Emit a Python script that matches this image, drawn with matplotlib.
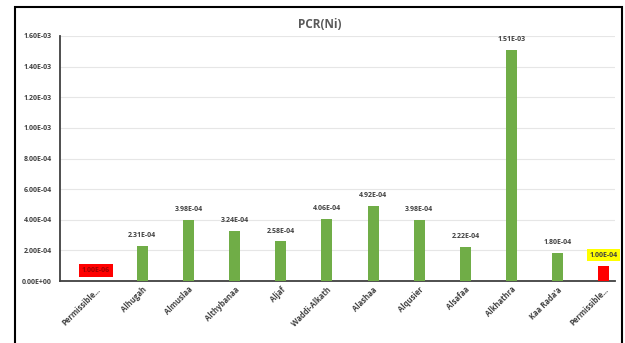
import numpy as np
import matplotlib.pyplot as plt
from matplotlib.patches import Rectangle
from matplotlib.ticker import FormatStrFormatter

plt.rcParams['font.family'] = ['Open Sans', 'DejaVu Sans']

# PCR for nickel by site, with permissible limits at both ends
sites = ['Permissible...', 'Alhugah', 'Almuslaa', 'Althybanaa', 'Aljaf',
         'Waddi-Alkath', 'Alashaa', 'Alqusier', 'Alsafaa', 'Alkhathra',
         "Kaa Rada'a", 'Permissible...']
pcr = [1.00e-06, 2.31e-04, 3.98e-04, 3.24e-04, 2.58e-04, 4.06e-04,
       4.92e-04, 3.98e-04, 2.22e-04, 1.51e-03, 1.80e-04, 1.00e-04]
colors = ['#FF0000'] + ['#70AD47'] * 10 + ['#FF0000']

fig = plt.figure(figsize=(6.25, 3.43), dpi=100)
ax = fig.add_axes([60 / 625, 1 - 281 / 343, 555 / 625, 245 / 343])

x = np.arange(len(sites))
bars = ax.bar(x, pcr, width=0.24, color=colors, zorder=3)

ax.set_xlim(-0.78, len(sites) - 1 + 0.24)
ax.set_ylim(0, 1.6e-3)
ax.set_yticks(np.arange(0, 1.61e-3, 2e-4))
ax.yaxis.set_major_formatter(FormatStrFormatter('%.2E'))
ax.grid(axis='y', color='#E6E6E6', linewidth=0.8, zorder=0)
ax.tick_params(axis='y', length=0, pad=6, labelsize=5, labelcolor='#404040')
ax.tick_params(axis='x', length=0, pad=3, labelsize=5.5, labelcolor='#404040')
for lab in ax.get_yticklabels():
    lab.set_fontweight('bold')

ax.set_xticks(x)
ax.set_xticklabels(sites, rotation=45, ha='right', rotation_mode='anchor',
                   fontweight='bold')

for side in ['top', 'right']:
    ax.spines[side].set_visible(False)
for side in ['left', 'bottom']:
    ax.spines[side].set_color('#404040')
    ax.spines[side].set_linewidth(1.3)

# value labels; the two limit bars get highlighted boxes
for i, (b, v) in enumerate(zip(bars, pcr)):
    kw = dict(ha='center', va='bottom', fontsize=5, fontweight='bold',
              color='#404040')
    if i == 0:
        kw.update(color='#9E0000',
                  bbox=dict(boxstyle='square,pad=0.45', fc='#FF0000', ec='none'))
    elif i == len(pcr) - 1:
        kw.update(bbox=dict(boxstyle='square,pad=0.35', fc='#FFFF00', ec='none'))
    ax.annotate('%.2E' % v, (b.get_x() + b.get_width() / 2, v),
                xytext=(0, 5), textcoords='offset points', **kw)

fig.text(320 / 625, 1 - 24 / 343, 'PCR(Ni)', ha='center', va='center',
         fontsize=8.5, fontweight='bold', color='#595959')

# outer frame, open at the bottom edge of the image
fig.patches.append(Rectangle((15 / 625, -0.1), 607 / 625, 1.1 - 7 / 343,
                             transform=fig.transFigure, fill=False,
                             ec='black', lw=1.5))

fig.savefig('out.png', dpi=100)
